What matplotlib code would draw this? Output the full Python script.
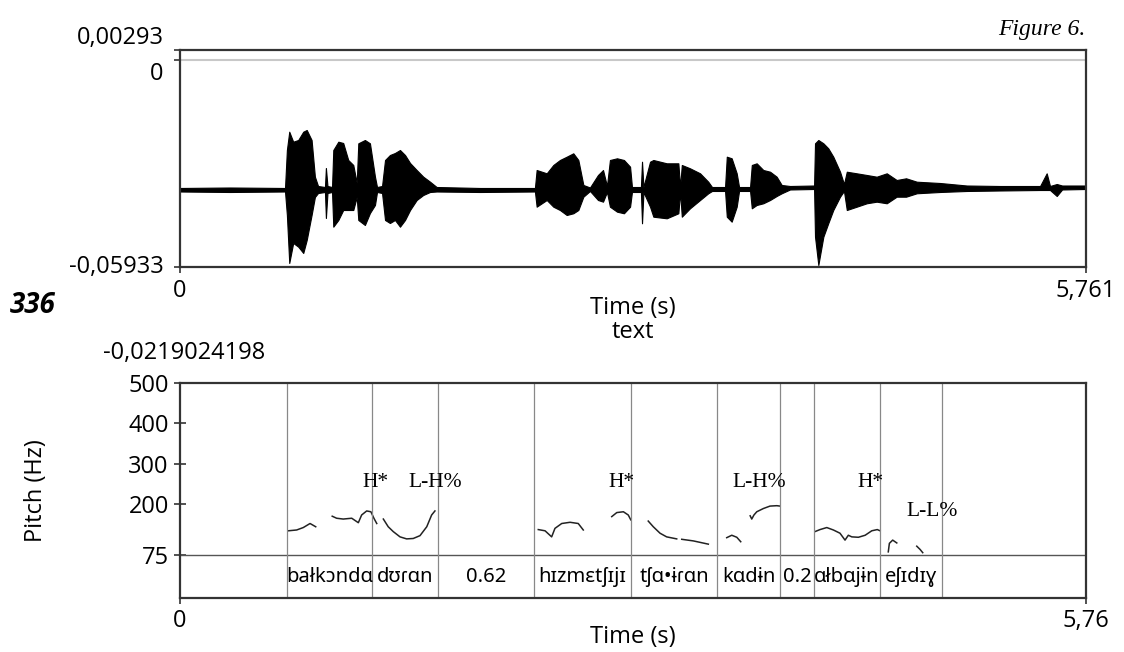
import numpy as np
import matplotlib
matplotlib.use("Agg")
import matplotlib.pyplot as plt

plt.rcParams['font.family'] = ['Open Sans', 'DejaVu Sans']

# waveform envelope (time s, upper, lower amplitude)
wave_t = [0, 0.318, 0.668, 0.680, 0.695, 0.720, 0.752, 0.784, 0.806, 0.837, 0.858, 0.878,
          0.922, 0.928, 0.938, 0.967, 0.975, 1.007, 1.038, 1.070, 1.102, 1.124, 1.134, 1.176,
          1.208, 1.240, 1.253, 1.285, 1.304, 1.335, 1.367, 1.399, 1.431, 1.463, 1.505, 1.547,
          1.590, 1.632, 1.908, 2.257, 2.268, 2.332, 2.374, 2.416, 2.459, 2.501, 2.533, 2.565,
          2.607, 2.658, 2.690, 2.715, 2.734, 2.779, 2.823, 2.862, 2.874, 2.931, 2.938, 2.947,
          2.989, 3.010, 3.095, 3.169, 3.180, 3.191, 3.243, 3.307, 3.359, 3.383, 3.466, 3.477,
          3.508, 3.540, 3.555, 3.625, 3.636, 3.667, 3.709, 3.752, 3.794, 3.826, 3.879, 4.032,
          4.038, 4.059, 4.091, 4.122, 4.154, 4.197, 4.222, 4.240, 4.303, 4.367, 4.430, 4.494,
          4.557, 4.617, 4.685, 4.833, 5.003, 5.214, 5.469, 5.511, 5.532, 5.575, 5.609, 5.761]
wave_top = [-0.03666, -0.03652, -0.03666, -0.02576, -0.02051, -0.02338, -0.02289, -0.02051,
            -0.02002, -0.02289, -0.03342, -0.03609, -0.03638, -0.03092, -0.03609, -0.03638,
            -0.02576, -0.02338, -0.02375, -0.02863, -0.03006, -0.03523, -0.02384, -0.02289,
            -0.02384, -0.03342, -0.03638, -0.03609, -0.02863, -0.02720, -0.02662, -0.02576,
            -0.02720, -0.02949, -0.03150, -0.03342, -0.03486, -0.03638, -0.03666, -0.03666,
            -0.03150, -0.03245, -0.03006, -0.02863, -0.02768, -0.02671, -0.02863, -0.03580,
            -0.03652, -0.03293, -0.03150, -0.03609, -0.02863, -0.02814, -0.02863, -0.03055,
            -0.03638, -0.03638, -0.02912, -0.03638, -0.02912, -0.02863, -0.02958, -0.02958,
            -0.03638, -0.03006, -0.03101, -0.03245, -0.03486, -0.03638, -0.03638, -0.02768,
            -0.02814, -0.03245, -0.03638, -0.03638, -0.03006, -0.02958, -0.03150, -0.03199,
            -0.03342, -0.03580, -0.03609, -0.03595, -0.02384, -0.02289, -0.02384, -0.02527,
            -0.02768, -0.03199, -0.03552, -0.03199, -0.03245, -0.03293, -0.03342, -0.03245,
            -0.03437, -0.03388, -0.03486, -0.03523, -0.03595, -0.03609, -0.03609, -0.03245,
            -0.03609, -0.03552, -0.03595, -0.03595]
wave_bot = [-0.03767, -0.03781, -0.03767, -0.04441, -0.05818, -0.05244, -0.05350, -0.05531,
            -0.05158, -0.04441, -0.03925, -0.03810, -0.03781, -0.04527, -0.03810, -0.03781,
            -0.04777, -0.04584, -0.04298, -0.04298, -0.04298, -0.03925, -0.04584, -0.04728,
            -0.04384, -0.04154, -0.03781, -0.03810, -0.04584, -0.04671, -0.04584, -0.04777,
            -0.04584, -0.04298, -0.04011, -0.03867, -0.03781, -0.03767, -0.03781, -0.03767,
            -0.04203, -0.04011, -0.04203, -0.04298, -0.04441, -0.04392, -0.04298, -0.03916,
            -0.03752, -0.04011, -0.04059, -0.03781, -0.04203, -0.04346, -0.04392, -0.04203,
            -0.03781, -0.03781, -0.04679, -0.03781, -0.04203, -0.04490, -0.04536, -0.04392,
            -0.03781, -0.04490, -0.04249, -0.04011, -0.03818, -0.03752, -0.03752, -0.04490,
            -0.04633, -0.04203, -0.03752, -0.03752, -0.04249, -0.04154, -0.04105, -0.04011,
            -0.03896, -0.03818, -0.03709, -0.03695, -0.05064, -0.05876, -0.05064, -0.04679,
            -0.04298, -0.03916, -0.03752, -0.04298, -0.04203, -0.04105, -0.04059, -0.04105,
            -0.03916, -0.03916, -0.03818, -0.03781, -0.03752, -0.03738, -0.03724, -0.03724,
            -0.03724, -0.03896, -0.03709, -0.03695]

# pitch contour pieces (time s, Hz)
pitch_segs = [
    ([0.689, 0.742, 0.784, 0.827, 0.863], [135, 137, 143, 153, 145]),
    ([0.968, 0.996, 1.038, 1.092, 1.134, 1.155, 1.187, 1.214, 1.233, 1.251],
     [171, 166, 164, 166, 155, 174, 184, 182, 166, 153]),
    ([1.293, 1.324, 1.356, 1.399, 1.441, 1.483, 1.526, 1.569, 1.600, 1.621],
     [164, 145, 133, 120, 115, 116, 123, 145, 174, 184]),
    ([2.278, 2.321, 2.363, 2.384, 2.427, 2.480, 2.532, 2.564],
     [138, 135, 120, 141, 153, 156, 153, 137]),
    ([2.745, 2.777, 2.819, 2.850, 2.866], [170, 180, 182, 174, 162]),
    ([2.977, 3.009, 3.052, 3.094, 3.158], [159, 145, 129, 120, 115]),
    ([3.190, 3.264, 3.359], [114, 110, 102]),
    ([3.476, 3.508, 3.540, 3.565], [118, 124, 119, 108]),
    ([3.625, 3.635, 3.649, 3.667, 3.709, 3.751, 3.794, 3.815],
     [172, 164, 174, 182, 190, 196, 197, 196]),
    ([4.037, 4.069, 4.112, 4.154, 4.196, 4.228, 4.249, 4.271, 4.313, 4.356, 4.398, 4.433, 4.451],
     [133, 138, 143, 137, 129, 112, 124, 120, 119, 124, 135, 138, 135]),
    ([4.503, 4.510, 4.531, 4.557], [83, 104, 112, 105]),
    ([4.684, 4.705, 4.722], [97, 89, 81]),
]

bounds = [0.680, 1.221, 1.640, 2.251, 2.867, 3.414, 3.815, 4.031, 4.451, 4.845]
words = ['bałkɔndɑ', 'dʊɾɑn', '0.62', 'hɪzmɛtʃɪjɪ', 'tʃɑ•ɨɾɑn', 'kɑdɨn', '0.2', 'ɑłbɑjɨn', 'eʃɪdɪɣ']
tones = ['H*', 'L-H%', 'H*', 'L-H%', 'H*', 'L-L%']
tone_t = [1.240, 1.621, 2.810, 3.681, 4.387, 4.781]
tone_hz = [255, 255, 255, 255, 255, 182]
pitch_ticks = [500, 400, 300, 200, 75]

fig = plt.figure(figsize=(11.24, 6.52), dpi=100)
ax1 = fig.add_axes([0.1601, 0.5905, 0.8061, 0.3328])
ax2 = fig.add_axes([0.1601, 0.0828, 0.8061, 0.3298])

# --- waveform ---
ax1.fill_between(wave_t, wave_bot, wave_top, color='black', lw=0.8, edgecolor='black')
ax1.axhline(0, color='#c8c8c8', lw=1.5)
ax1.set_xlim(0, 5.761)
ax1.set_ylim(-0.05933, 0.00293)
ax1.set_yticks([0.00293, 0, -0.05933])
ax1.set_yticklabels([])
ax1.set_xticks([0, 5.761])
ax1.set_xticklabels([])
ax1.tick_params(direction='inout', length=8, width=1.2, color='#333333')
for s in ax1.spines.values():
    s.set_linewidth(1.6)
    s.set_color('#333333')
tr = ax1.get_yaxis_transform()
ax1.text(-0.018, 0.00293, '0,00293', transform=tr, ha='right', va='bottom', fontsize=17)
ax1.text(-0.018, -0.0004, '0', transform=tr, ha='right', va='top', fontsize=17)
ax1.text(-0.018, -0.05933, '-0,05933', transform=tr, ha='right', va='center', fontsize=17)
trx = ax1.get_xaxis_transform()
ax1.text(0, -0.055, '0', transform=trx, ha='center', va='top', fontsize=17)
ax1.text(5.761, -0.055, '5,761', transform=trx, ha='center', va='top', fontsize=17)
ax1.text(0.5, -0.135, 'Time (s)', transform=ax1.transAxes, ha='center', va='top', fontsize=17)
ax1.text(0.5, -0.245, 'text', transform=ax1.transAxes, ha='center', va='top', fontsize=17)
ax1.text(0.005, -0.34, '-0,0219024198', transform=ax1.transAxes, ha='center', va='top', fontsize=17)

# --- pitch + tier ---
ax2.set_xlim(0, 5.76)
ax2.set_ylim(-31, 500)
for seg_t, seg_hz in pitch_segs:
    ax2.plot(seg_t, seg_hz, color='#222222', lw=1.1)
ax2.axhline(75, color='#555555', lw=1.0)
for b in bounds:
    ax2.axvline(b, color='#888888', lw=0.9)
edges = bounds
for i, w in enumerate(words):
    mid = (edges[i] + edges[i + 1]) / 2
    ax2.text(mid, 22, w, ha='center', va='center', fontsize=14.5,
             family=['Noto Sans', 'DejaVu Sans'])
for t, hz, lab in zip(tone_t, tone_hz, tones):
    ax2.text(t, hz, lab, ha='center', va='center', fontsize=15.5,
             family=['Liberation Serif', 'DejaVu Serif'])
ax2.set_yticks(pitch_ticks)
ax2.set_yticklabels([str(v) for v in pitch_ticks], fontsize=17)
ax2.set_xticks([0, 5.76])
ax2.set_xticklabels(['0', '5,76'], fontsize=17)
ax2.tick_params(direction='inout', length=8, width=1.2, color='#333333', pad=4)
for s in ax2.spines.values():
    s.set_linewidth(1.6)
    s.set_color('#333333')
ax2.set_ylabel('Pitch (Hz)', fontsize=17, labelpad=58)
ax2.set_xlabel('Time (s)', fontsize=17, labelpad=-6)

fig.text(0.009, 0.532, '336', fontsize=20, fontweight='bold', style='italic', ha='left', va='center')
fig.text(0.9653, 0.954, 'Figure 6.', fontsize=17, style='italic', ha='right', va='center',
         family=['Liberation Serif', 'DejaVu Serif'])

fig.savefig('out.png', dpi=100)
